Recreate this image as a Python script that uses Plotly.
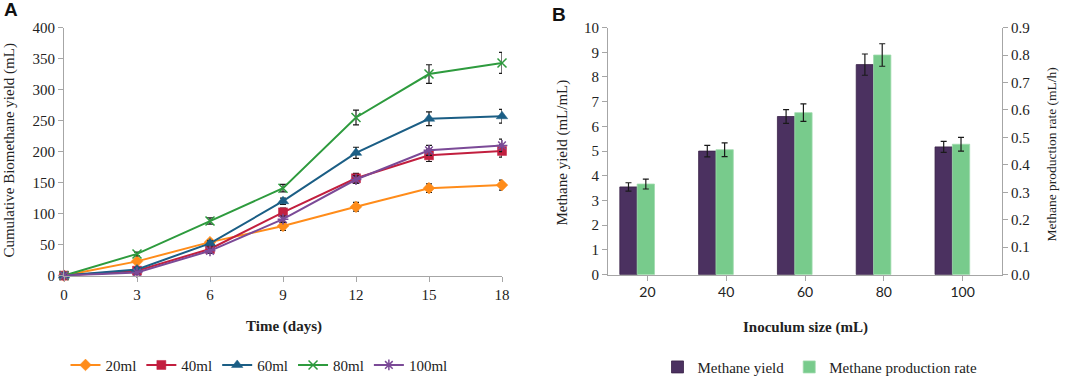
import plotly.graph_objects as go

# ---------------- data ----------------
days = [0, 3, 6, 9, 12, 15, 18]
series_names = ["20ml", "40ml", "60ml", "80ml", "100ml"]
y20 = [0, 23, 54, 80, 111, 141, 146]
y40 = [0, 8, 43, 102, 157, 194, 201]
y60 = [0, 10, 52, 120, 198, 253, 257]
y80 = [0, 35, 88, 141, 255, 325, 343]
y100 = [0, 5, 40, 91, 155, 202, 210]
e20 = [2, 3, 4, 7, 7, 7, 8]
e40 = [2, 3, 4, 7, 8, 10, 10]
e60 = [2, 3, 4, 5, 9, 11, 11]
e80 = [2, 3, 5, 6, 12, 15, 17]
e100 = [2, 3, 4, 5, 6, 8, 10]

inoculum = ["20", "40", "60", "80", "100"]
methane_yield = [3.55, 5.0, 6.4, 8.5, 5.17]
methane_yield_err = [0.17, 0.23, 0.28, 0.43, 0.22]
production_rate = [0.33, 0.455, 0.59, 0.80, 0.475]
production_rate_err = [0.018, 0.025, 0.032, 0.041, 0.025]

# ---------------- styles ----------------
colors = ["#FF8C1A", "#C21F3F", "#1B5E85", "#2E9B3E", "#7B4A97"]
symbols = ["diamond", "square", "triangle-up", "x-thin", "asterisk"]
sizes = [9, 9, 10, 9, 9]
serif = "Liberation Serif"
axis_col = "#A6A6A6"

fig = go.Figure()

ys = [y20, y40, y60, y80, y100]
es = [e20, e40, e60, e80, e100]
for name, yv, ev, c, s, sz in zip(series_names, ys, es, colors, symbols, sizes):
    thin = s in ("x-thin", "asterisk")
    fig.add_trace(go.Scatter(
        x=days, y=yv, name=name, mode="lines+markers",
        line=dict(color=c, width=2),
        marker=dict(symbol=s, size=sz, color=c,
                    line=dict(color=c, width=1.5 if thin else 0.5)),
        error_y=dict(type="data", array=ev, color="#1a1a1a", thickness=1.2, width=3),
        xaxis="x", yaxis="y", legend="legend", cliponaxis=False,
    ))

fig.add_trace(go.Bar(
    x=list(range(len(inoculum))), y=methane_yield, name="Methane yield",
    marker=dict(color="#4B3160", line=dict(color="#3A2248", width=0.8)),
    width=0.22, offset=-0.35,
    error_y=dict(type="data", array=methane_yield_err, color="#1a1a1a", thickness=1.2, width=3),
    xaxis="x2", yaxis="y2", legend="legend2",
))
fig.add_trace(go.Bar(
    x=list(range(len(inoculum))), y=production_rate, name="Methane production rate",
    marker=dict(color="#78CB8C", line=dict(color="#A0DBAD", width=0.8)),
    width=0.22, offset=-0.13,
    error_y=dict(type="data", array=production_rate_err, color="#1a1a1a", thickness=1.2, width=3),
    xaxis="x2", yaxis="y3", legend="legend2",
))

W, H = 1065, 384
def px(x):
    return x / W
def py(y):
    return 1 - y / H

tickfont = dict(family=serif, size=15, color="#222")

fig.update_layout(
    width=W, height=H, autosize=False,
    margin=dict(l=0, r=0, t=0, b=0),
    paper_bgcolor="white", plot_bgcolor="white",
    showlegend=True,
    barmode="overlay",
    xaxis=dict(domain=[px(64), px(502)], range=[0, 18], tickvals=days,
               showline=True, linecolor=axis_col, linewidth=1, ticks="outside",
               ticklen=5, tickcolor=axis_col, showgrid=False, zeroline=False,
               tickfont=tickfont, anchor="y", automargin=False),
    yaxis=dict(domain=[py(280), py(28)], range=[0, 400], dtick=50,
               showline=True, linecolor=axis_col, linewidth=1, ticks="outside",
               ticklen=5, tickcolor=axis_col, showgrid=False, zeroline=False,
               tickfont=tickfont, anchor="x", automargin=False),
    xaxis2=dict(domain=[px(608), px(1002)], range=[-0.5, 4.5],
                tickvals=list(range(len(inoculum))), ticktext=inoculum,
                showline=True, linecolor=axis_col, linewidth=1, ticks="outside",
                ticklen=5, tickcolor=axis_col, showgrid=False, zeroline=False,
                tickfont=dict(family="Lato", size=14, color="#222"),
                anchor="y2", automargin=False),
    yaxis2=dict(domain=[py(279), py(28)], range=[0, 10], dtick=1,
                showline=True, linecolor=axis_col, linewidth=1, ticks="outside",
                ticklen=5, tickcolor=axis_col, showgrid=False, zeroline=False,
                tickfont=tickfont, anchor="x2", automargin=False),
    yaxis3=dict(range=[0, 0.9], dtick=0.1, overlaying="y2", side="right",
                showline=True, linecolor=axis_col, linewidth=1, ticks="outside",
                ticklen=5, tickcolor=axis_col, showgrid=False, zeroline=False,
                tickfont=tickfont, anchor="x2", automargin=False, tickformat=".1f"),
    legend=dict(orientation="h", x=px(259), y=py(371), xanchor="center", yanchor="middle",
                font=dict(family=serif, size=15, color="#222"), itemwidth=30,
                tracegroupgap=0, bgcolor="rgba(0,0,0,0)"),
    legend2=dict(orientation="h", x=px(820), y=py(373), xanchor="center", yanchor="middle",
                 font=dict(family=serif, size=15, color="#222"), itemwidth=30,
                 bgcolor="rgba(0,0,0,0)"),
    annotations=[
        dict(text="<b>A</b>", x=px(2), y=py(10), xref="paper", yref="paper",
             xanchor="left", yanchor="middle", showarrow=False,
             font=dict(family="Liberation Sans", size=19, color="#111")),
        dict(text="<b>B</b>", x=px(550), y=py(15), xref="paper", yref="paper",
             xanchor="left", yanchor="middle", showarrow=False,
             font=dict(family="Liberation Sans", size=19, color="#111")),
        dict(text="<b>Time (days)</b>", x=px(284), y=py(332), xref="paper", yref="paper",
             xanchor="center", yanchor="middle", showarrow=False,
             font=dict(family=serif, size=15, color="#222")),
        dict(text="<b>Inoculum size (mL)</b>", x=px(805), y=py(333), xref="paper", yref="paper",
             xanchor="center", yanchor="middle", showarrow=False,
             font=dict(family=serif, size=15, color="#222")),
        dict(text="Cumulative Biomethane yield (mL)", x=px(10), y=py(153), xref="paper",
             yref="paper", xanchor="center", yanchor="middle", showarrow=False,
             textangle=-90, font=dict(family=serif, size=15, color="#222")),
        dict(text="Methane yield (mL/mL)", x=px(563), y=py(155), xref="paper",
             yref="paper", xanchor="center", yanchor="middle", showarrow=False,
             textangle=-90, font=dict(family=serif, size=15, color="#222")),
        dict(text="Methane production rate (mL/h)", x=px(1052), y=py(157), xref="paper",
             yref="paper", xanchor="center", yanchor="middle", showarrow=False,
             textangle=-90, font=dict(family=serif, size=13.5, color="#222")),
    ],
)

fig.write_html(
    "out.html",
    config={"displayModeBar": False},
    post_script="document.body.style.margin='0';document.body.style.overflow='hidden';",
)
